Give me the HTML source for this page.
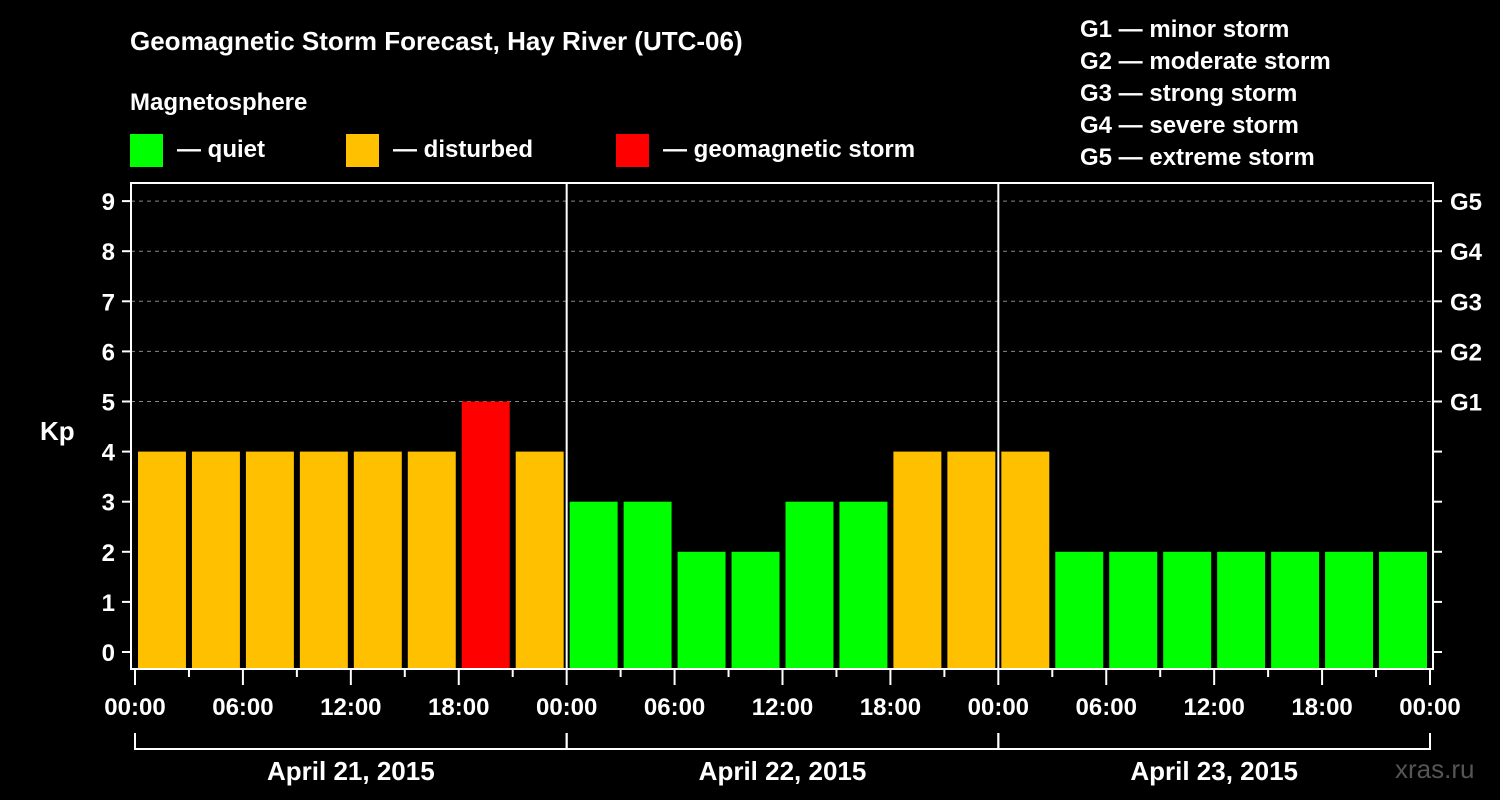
<!DOCTYPE html>
<html><head><meta charset="utf-8"><style>
body{margin:0;background:#000;}
svg{display:block;font-family:"Liberation Sans",sans-serif;font-weight:bold;}
</style></head><body>
<svg id="c" width="1500" height="800">
<text x="130" y="50" fill="#fff" font-size="26">Geomagnetic Storm Forecast, Hay River (UTC-06)</text>
<text x="130" y="110" fill="#fff" font-size="24">Magnetosphere</text>
<g><rect x="130" y="134" width="33" height="33" fill="#00ff00"/><text x="177" y="157" fill="#fff" font-size="24">— quiet</text></g>
<g><rect x="346" y="134" width="33" height="33" fill="#ffc000"/><text x="393" y="157" fill="#fff" font-size="24">— disturbed</text></g>
<g><rect x="616" y="134" width="33" height="33" fill="#ff0000"/><text x="663" y="157" fill="#fff" font-size="24">— geomagnetic storm</text></g>
<g fill="#fff" font-size="24">
<text x="1080" y="37">G1 — minor storm</text><text x="1080" y="69">G2 — moderate storm</text><text x="1080" y="101">G3 — strong storm</text><text x="1080" y="133">G4 — severe storm</text><text x="1080" y="165">G5 — extreme storm</text>
</g>
<text x="40" y="440" fill="#fff" font-size="26">Kp</text>
<text x="1395" y="778" fill="#555" font-size="26" font-weight="normal">xras.ru</text>
<g id="grid"></g><g id="bars"></g><g id="axes"></g>
</svg>
<script>
const kpValues=[4,4,4,4,4,4,5,4, 3,3,2,2,3,3,4,4, 4,2,2,2,2,2,2,2];
const yTicks=[0,1,2,3,4,5,6,7,8,9];
const gLabels=["G1","G2","G3","G4","G5"];
const hourLabels=["00:00","06:00","12:00","18:00"];
const dayLabels=["April 21, 2015","April 22, 2015","April 23, 2015"];
const NS="http://www.w3.org/2000/svg";
const X0=135,X1=1430,PL=131,PR=1433,PT=183,PB=669;
const x=h=>X0+(X1-X0)*h/72;
const y=v=>652-v*50.1;
function mk(p,t,a,txt){const e=document.createElementNS(NS,t);for(const k in a)e.setAttribute(k,a[k]);if(txt!==undefined)e.textContent=txt;document.getElementById(p).appendChild(e);return e;}
const col=v=>v>=5?"#ff0000":v>=4?"#ffc000":"#00ff00";
yTicks.forEach(v=>{
 if(v>=5){const g=mk("grid","line",{x1:PL,x2:PR,y1:y(v),y2:y(v),stroke:"#888","stroke-dasharray":"4,4","stroke-width":1});
 
 }
 const t=mk("axes","line",{x1:122,x2:PL,y1:y(v),y2:y(v),stroke:"#fff","stroke-width":2});
 
 
 const l=mk("axes","text",{x:115,y:y(v)+9,fill:"#fff","font-size":24,"text-anchor":"end"},String(v));
 
 
 const r=mk("axes","line",{x1:PR,x2:1442,y1:y(v),y2:y(v),stroke:"#fff","stroke-width":2});
 
 
});
gLabels.forEach((g,i)=>{
 const l=mk("axes","text",{x:1450,y:y(5+i)+9,fill:"#fff","font-size":24},g);
 
 
});
kpValues.forEach((v,i)=>{
 const b=mk("bars","rect",{x:x(i*3)+3,y:y(v),width:x(3)-x(0)-6,height:PB-y(v),fill:col(v)});
 
 
});
mk("axes","rect",{x:PL,y:PT,width:PR-PL,height:PB-PT,fill:"none",stroke:"#fff","stroke-width":2});
[1,2].forEach(d=>{const l=mk("axes","line",{x1:x(d*24),x2:x(d*24),y1:PT,y2:PB,stroke:"#fff","stroke-width":2});
 
 });
for(let h=0;h<=72;h+=3){
 const major=h%6===0;
 const t=mk("axes","line",{x1:x(h),x2:x(h),y1:PB,y2:major?685:677,stroke:"#fff","stroke-width":2});
 
 
 if(major){const l=mk("axes","text",{x:x(h),y:715,fill:"#fff","font-size":24,"text-anchor":"middle"},hourLabels[(h/6)%4]);
 
 }
}
dayLabels.forEach((d,i)=>{
 const a=x(i*24),b=x(i*24+24);
 const p=mk("axes","path",{d:`M${a},733V749H${b}V733`,fill:"none",stroke:"#fff","stroke-width":2});
 
 
 const l=mk("axes","text",{x:(a+b)/2,y:780,fill:"#fff","font-size":26,"text-anchor":"middle"},d);
 
 
});
</script>
</body></html>
